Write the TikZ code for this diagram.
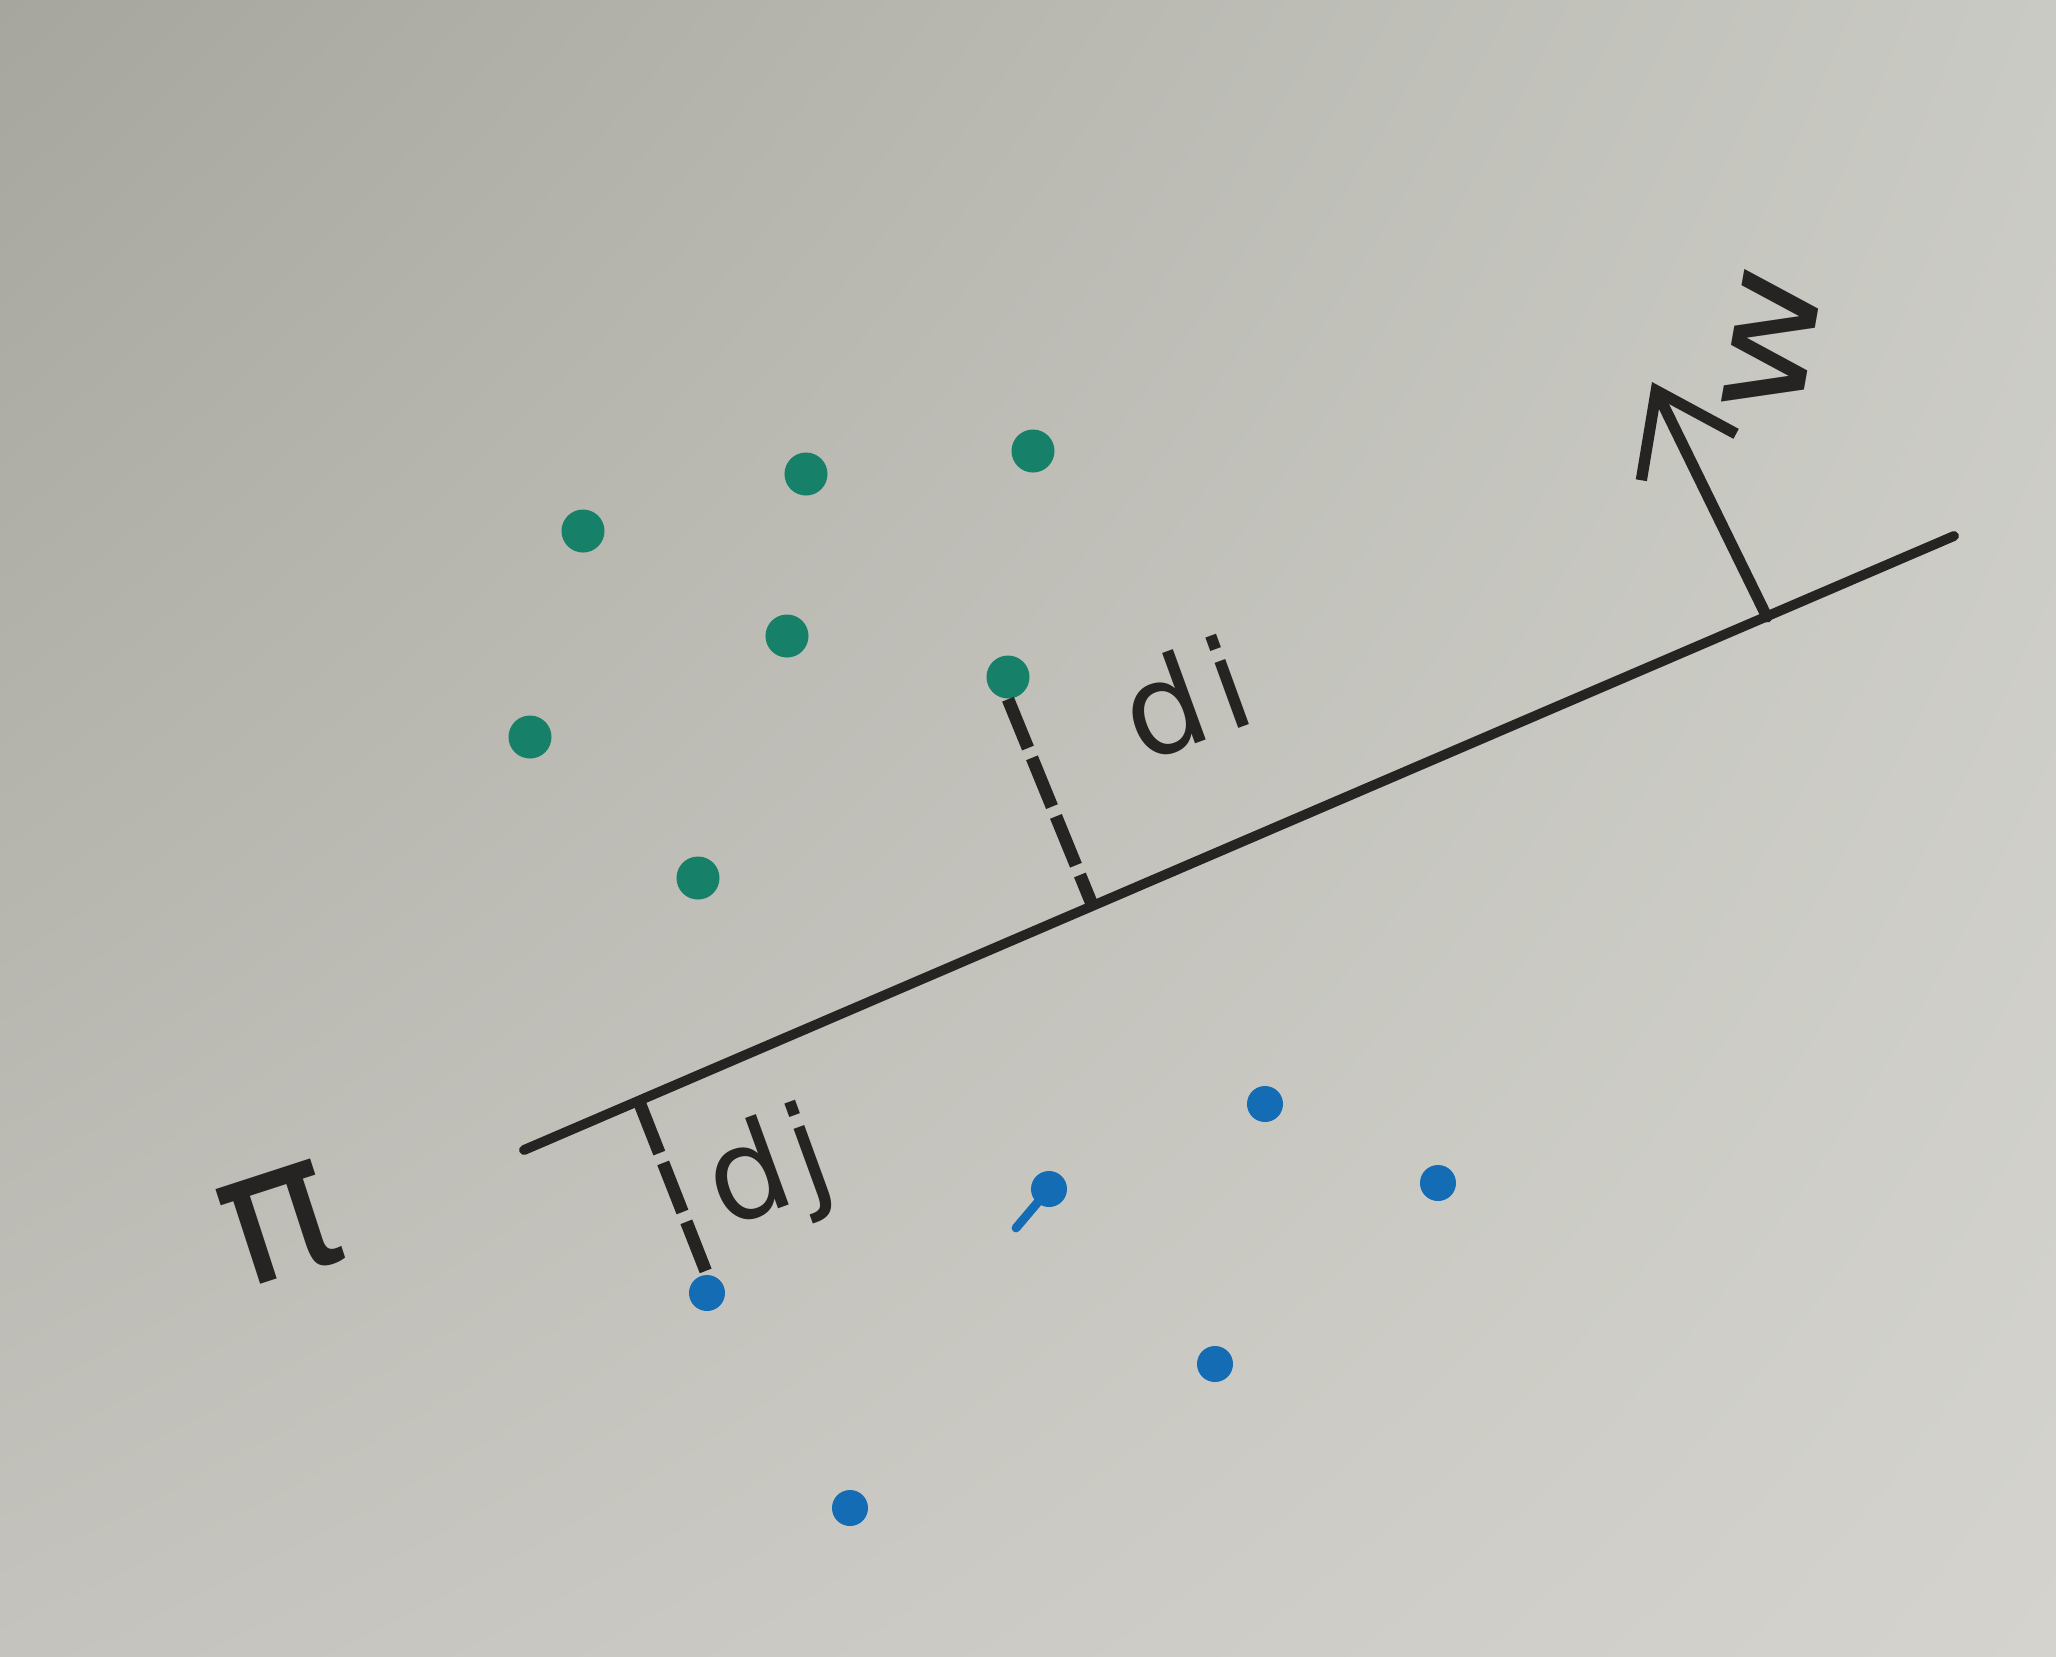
\documentclass[tikz,border=0pt]{standalone}
\usepackage{fontspec}
\newfontfamily\handfont{DejaVu Sans}
\usetikzlibrary{arrows.meta,shadings}
\definecolor{paperUL}{RGB}{166,166,158}
\definecolor{paperUR}{RGB}{202,202,196}
\definecolor{paperLL}{RGB}{196,195,189}
\definecolor{paperLR}{RGB}{212,211,205}
\definecolor{ink}{RGB}{38,36,34}
\definecolor{greendot}{RGB}{22,128,104}
\definecolor{bluedot}{RGB}{20,108,180}
\begin{document}
\begin{tikzpicture}[x=0.01cm,y=-0.01cm,
  gdot/.style={circle,fill=greendot,inner sep=0pt,minimum size=43*0.2845pt},
  bdot/.style={circle,fill=bluedot,inner sep=0pt,minimum size=36*0.2845pt},
  plane/.style={draw=ink,line width=2.8pt,line cap=round},
  distline/.style={draw=ink,line width=3.6pt,dash pattern=on 15pt off 3pt},
  normalvec/.style={draw=ink,line width=3.2pt,line cap=round,-{Straight Barb[length=21pt,width=30pt,line width=3.2pt]}},
  lbl/.style={text=ink,inner sep=0pt,font=\handfont\fontsize{36}{42}\selectfont}]
\shade[upper left=paperUL,upper right=paperUR,lower left=paperLL,lower right=paperLR] (0,0) rectangle (2056,1656);
\useasboundingbox (0,0) rectangle (2056,1656);

% hyperplane
\coordinate (L1) at (524,1150);
\coordinate (L2) at (1954,536);
\draw[plane] (L1) -- (L2);

% normal vector w
\coordinate (wb) at (1767,617);
\coordinate (wt) at (1652,382);
\draw[normalvec] (wb) -- (wt);
\node[lbl,rotate=80] (wlab) at (1772,343) {\scalebox{1.45}[1.15]{w}};

% green points
\node[gdot] (g1) at (583,531) {};
\node[gdot] (g2) at (806,474) {};
\node[gdot] (g3) at (1033,451) {};
\node[gdot] (g4) at (787,636) {};
\node[gdot] (g5) at (530,737) {};
\node[gdot] (g6) at (698,878) {};
\node[gdot] (g7) at (1008,677) {};

% blue points
\node[bdot] (b1) at (1265,1104) {};
\node[bdot] (b2) at (1049,1189) {};
\node[bdot] (b3) at (1438,1183) {};
\node[bdot] (b4) at (707,1293) {};
\node[bdot] (b5) at (1215,1364) {};
\node[bdot] (b6) at (850,1508) {};
\coordinate (b2tail) at (1016,1228);
\draw[bluedot,line width=2.5pt,line cap=round] (b2.center) -- (b2tail);

% distances
\coordinate (fi) at (1091,902);
\coordinate (fj) at (640,1104);
\draw[distline] (g7.south) -- (fi);
\draw[distline] (fj) -- (b4.north);
\node[lbl,rotate=20] (di) at (1185,698) {d\hspace{3pt}i};
\node[lbl,rotate=20] (dj) at (770,1175) {d\hspace{2pt}j};

% plane label
\node[lbl,font=\handfont\fontsize{54}{62}\selectfont,rotate=18] (pi) at (280,1225) {π};
\end{tikzpicture}
\end{document}
